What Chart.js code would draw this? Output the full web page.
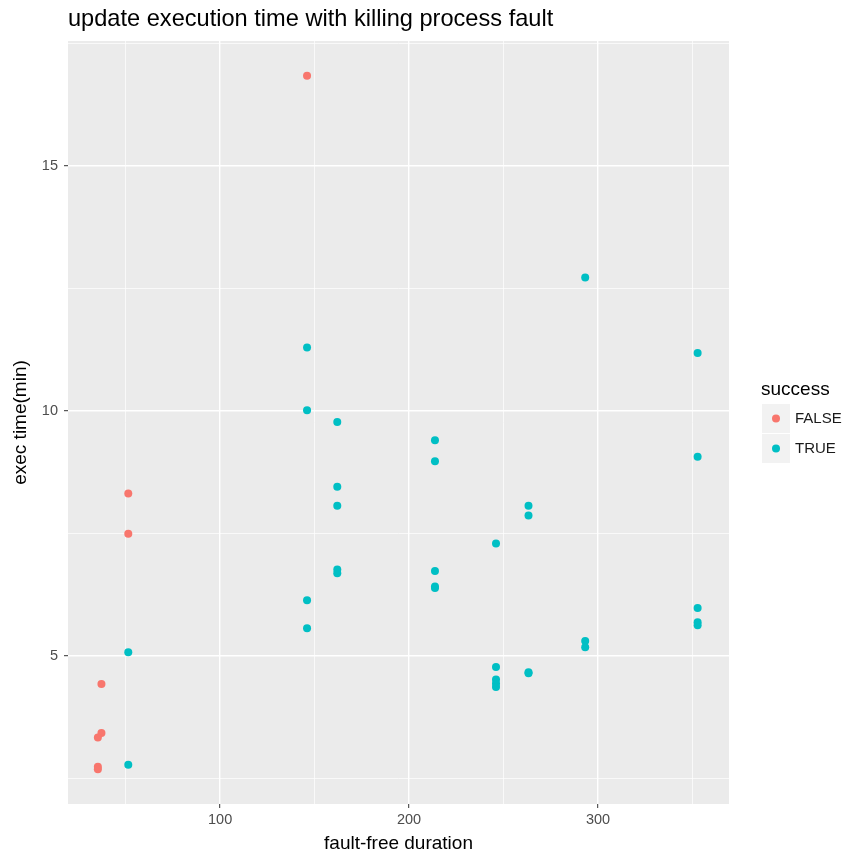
<!DOCTYPE html>
<html>
<head>
<meta charset="utf-8">
<script src="https://cdn.jsdelivr.net/npm/chart.js@4.4.0/dist/chart.umd.min.js"></script>
<style>
  html, body { margin: 0; padding: 0; background: #fff; }
</style>
</head>
<body>
<canvas id="chart" width="845" height="858"></canvas>
<script>
// data: x = fault-free duration, y = exec time (min)
const falseDuration = [51.4, 51.4, 37.2, 37.2, 35.3, 35.3, 35.3, 146];
const falseTime     = [8.31, 7.49, 4.42, 3.42, 3.33, 2.73, 2.68, 16.84];

const trueDuration = [51.4, 51.4,
  146, 146, 146, 146,
  162, 162, 162, 162, 162,
  213.7, 213.7, 213.7, 213.7, 213.7,
  246, 246, 246, 246, 246,
  263.2, 263.2, 263.2, 263.2,
  293.2, 293.2, 293.2,
  352.7, 352.7, 352.7, 352.7, 352.7];
const trueTime = [5.07, 2.77,
  11.29, 10.01, 6.13, 5.56,
  9.77, 8.45, 8.06, 6.76, 6.68,
  9.40, 8.97, 6.73, 6.41, 6.38,
  7.29, 4.77, 4.51, 4.43, 4.36,
  8.06, 7.86, 4.66, 4.64,
  12.72, 5.30, 5.17,
  11.18, 9.06, 5.97, 5.68, 5.62];

const xMajor = [100, 200, 300];
const xMinor = [50, 150, 250, 350];
const yMajor = [5, 10, 15];
const yMinor = [2.5, 7.5, 12.5, 17.5];

const seriesNames = ['FALSE', 'TRUE'];
const seriesColors = ['#F8766D', '#00BFC4'];

const FONT = '"Liberation Sans", Arial, sans-serif';

function toPoints(xs, ys) {
  return xs.map((x, i) => ({ x: x, y: ys[i] }));
}

// grey panel behind the grid
const panelBg = {
  id: 'panelBg',
  beforeDraw(chart) {
    const a = chart.chartArea;
    const c = chart.ctx;
    c.save();
    c.fillStyle = '#EBEBEB';
    c.fillRect(a.left, a.top, a.right - a.left, a.bottom - a.top);
    c.restore();
  }
};

// plot title and ggplot-like legend
const extras = {
  id: 'extras',
  afterDraw(chart) {
    const c = chart.ctx;
    const a = chart.chartArea;
    c.save();
    c.fillStyle = '#000';
    c.textBaseline = 'alphabetic';
    c.font = '23.6px ' + FONT;
    c.fillText('update execution time with killing process fault', a.left, 26);

    c.font = '19px ' + FONT;
    c.fillText('success', 761, 395);

    c.font = '15px ' + FONT;
    c.textBaseline = 'middle';
    seriesNames.forEach((name, i) => {
      const top = 404 + i * 30;
      c.fillStyle = '#F2F2F2';
      c.fillRect(762, top, 28, 29);
      c.fillStyle = seriesColors[i];
      c.beginPath();
      c.arc(776, top + 14.5, 4, 0, Math.PI * 2);
      c.fill();
      c.fillStyle = '#1A1A1A';
      c.fillText(name, 795, top + 15);
    });
    c.restore();
  }
};

function gridOpts(major) {
  return {
    color: '#FFFFFF',
    lineWidth: ctx => major.includes(ctx.tick && ctx.tick.value) ? 1.4 : 0.7,
    drawTicks: true,
    tickLength: 4,
    tickWidth: 1,
    tickColor: ctx => major.includes(ctx.tick && ctx.tick.value) ? '#333333' : 'rgba(0,0,0,0)'
  };
}

new Chart(document.getElementById('chart'), {
  type: 'scatter',
  data: {
    datasets: [
      {
        label: seriesNames[0],
        data: toPoints(falseDuration, falseTime),
        backgroundColor: seriesColors[0],
        borderWidth: 0,
        pointRadius: 4
      },
      {
        label: seriesNames[1],
        data: toPoints(trueDuration, trueTime),
        backgroundColor: seriesColors[1],
        borderWidth: 0,
        pointRadius: 4
      }
    ]
  },
  options: {
    responsive: false,
    animation: false,
    devicePixelRatio: 1,
    layout: { padding: { left: 0, right: 116, top: 41, bottom: 0 } },
    plugins: {
      legend: { display: false },
      title: { display: false },
      tooltip: { enabled: false }
    },
    scales: {
      x: {
        type: 'linear',
        min: 19.5,
        max: 369.3,
        border: { display: false },
        grid: gridOpts(xMajor),
        afterBuildTicks: s => {
          s.ticks = xMinor.concat(xMajor).sort((p, q) => p - q).map(v => ({ value: v }));
        },
        afterFit: s => { s.height = 54; },
        ticks: {
          autoSkip: false,
          maxRotation: 0,
          padding: 3,
          color: '#4D4D4D',
          font: { family: FONT, size: 14.5 },
          callback: v => xMajor.includes(v) ? String(v) : ''
        },
        title: {
          display: true,
          text: 'fault-free duration',
          color: '#000',
          font: { family: FONT, size: 19 },
          padding: { top: 0, bottom: 3 }
        }
      },
      y: {
        type: 'linear',
        min: 1.97,
        max: 17.55,
        border: { display: false },
        grid: gridOpts(yMajor),
        afterBuildTicks: s => {
          s.ticks = yMinor.concat(yMajor).sort((p, q) => p - q).map(v => ({ value: v }));
        },
        afterFit: s => { s.width = 68; },
        ticks: {
          autoSkip: false,
          padding: 6,
          color: '#4D4D4D',
          font: { family: FONT, size: 14.5 },
          callback: v => yMajor.includes(v) ? String(v) : ''
        },
        title: {
          display: true,
          text: 'exec time(min)',
          color: '#000',
          font: { family: FONT, size: 19 },
          padding: { top: 9, bottom: 0 }
        }
      }
    }
  },
  plugins: [panelBg, extras]
});
</script>
</body>
</html>
